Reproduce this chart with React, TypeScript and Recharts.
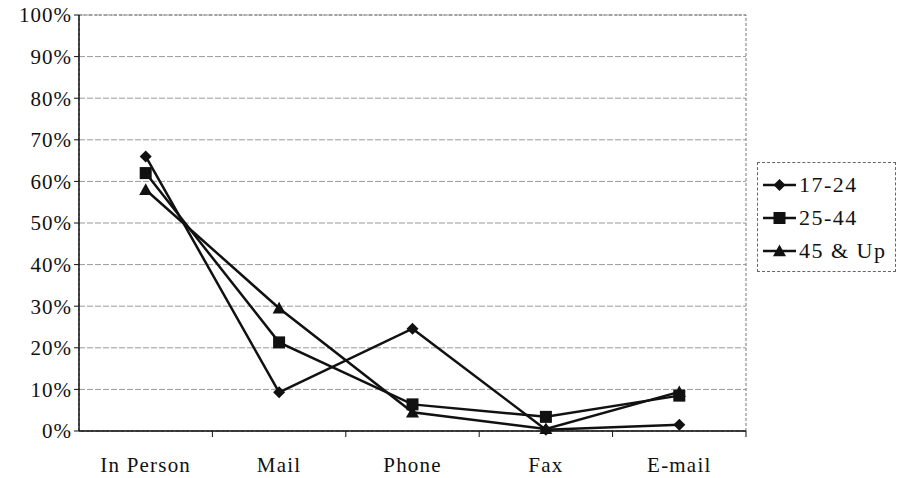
import { CartesianGrid, Line, LineChart, ReferenceArea, XAxis, YAxis } from 'recharts'

const channels = ['In Person', 'Mail', 'Phone', 'Fax', 'E-mail']
const age17to24 = [66, 9.3, 24.6, 0.3, 1.5]
const age25to44 = [62, 21.3, 6.4, 3.4, 8.5]
const age45up = [58, 29.5, 4.5, 0.5, 9.4]
const percentTicks = [0, 10, 20, 30, 40, 50, 60, 70, 80, 90, 100]

const seriesNames = ['17-24', '25-44', '45 & Up']

const data = channels.map((name, i) => ({
	name,
	a: age17to24[i],
	b: age25to44[i],
	c: age45up[i],
}))

const FONT = '"Liberation Serif", "Times New Roman", serif'
const INK = '#111'

const Diamond = ({ cx, cy }) => {
	if (cx == null || cy == null) return null
	const r = 6
	return <path d={`M${cx},${cy - r}L${cx + r},${cy}L${cx},${cy + r}L${cx - r},${cy}Z`} fill={INK} />
}

const Square = ({ cx, cy }) => {
	if (cx == null || cy == null) return null
	const r = 6
	return <rect x={cx - r} y={cy - r} width={r * 2} height={r * 2} fill={INK} />
}

const Triangle = ({ cx, cy }) => {
	if (cx == null || cy == null) return null
	const r = 6.5
	return <path d={`M${cx},${cy - r}L${cx + r},${cy + r * 0.8}L${cx - r},${cy + r * 0.8}Z`} fill={INK} />
}

const markers = [Diamond, Square, Triangle]

// plot width split into one band per channel, used for the between-category tick marks
const CHART_W = 898
const MARGIN_RIGHT = 152
const Y_W = 79
const band = (CHART_W - MARGIN_RIGHT - Y_W) / channels.length

const ChannelTick = ({ x, y, payload }) => (
	<g>
		<line x1={x + band / 2} y1={y - 8} x2={x + band / 2} y2={y - 2} stroke={INK} strokeWidth={1} />
		<text x={x} y={y + 33} textAnchor='middle' fontFamily={FONT} fontSize={21} letterSpacing={1.2} fill={INK}>
			{payload.value}
		</text>
	</g>
)

// legend box sits to the right of the plot, outside the chart layout
const AgeLegend = () => (
	<div style={{ position: 'absolute', left: 757, top: 162, border: '1px dashed #666', padding: '5px 4px 4px 4px', width: 139, height: 110, boxSizing: 'border-box', background: '#fff' }}>
		{seriesNames.map((name, i) => {
			const Mark = markers[i]
			return (
				<div key={name} style={{ display: 'flex', alignItems: 'center', height: 33 }}>
					<svg width={36} height={20}>
						<line x1={1} y1={10} x2={34} y2={10} stroke={INK} strokeWidth={2.5} />
						<Mark cx={17.5} cy={10} />
					</svg>
					<span style={{ fontFamily: FONT, fontSize: 22, letterSpacing: 1.5, color: INK, marginLeft: 1 }}>{name}</span>
				</div>
			)
		})}
	</div>
)

export default function App() {
	return (
		<div style={{ position: 'absolute', left: 0, top: 0, width: CHART_W, height: 478, background: '#fff' }}>
			<LineChart width={CHART_W} height={478} data={data} margin={{ top: 15, right: MARGIN_RIGHT, bottom: 0, left: 0 }}>
				<CartesianGrid horizontal vertical={false} stroke='#999' strokeDasharray='6 2' />
				<ReferenceArea y1={0} y2={100} fill='none' stroke='#777' strokeDasharray='3 2' strokeWidth={1} />
				<XAxis
					dataKey='name'
					scale='band'
					height={47}
					axisLine={{ stroke: INK, strokeWidth: 1.5 }}
					tickLine={false}
					interval={0}
					tick={<ChannelTick />}
				/>
				<YAxis
					width={Y_W}
					domain={[0, 100]}
					ticks={percentTicks}
					tickFormatter={(v) => `${v}%`}
					axisLine={{ stroke: INK, strokeWidth: 1.5 }}
					tickLine={{ stroke: INK }}
					tickSize={5}
					tick={{ fontFamily: FONT, fontSize: 21, letterSpacing: 1, fill: INK }}
				/>
				<Line dataKey='a' name={seriesNames[0]} stroke={INK} strokeWidth={2.5} dot={<Diamond />} activeDot={false} isAnimationActive={false} />
				<Line dataKey='b' name={seriesNames[1]} stroke={INK} strokeWidth={2.5} dot={<Square />} activeDot={false} isAnimationActive={false} />
				<Line dataKey='c' name={seriesNames[2]} stroke={INK} strokeWidth={2.5} dot={<Triangle />} activeDot={false} isAnimationActive={false} />
			</LineChart>
			<AgeLegend />
		</div>
	)
}
